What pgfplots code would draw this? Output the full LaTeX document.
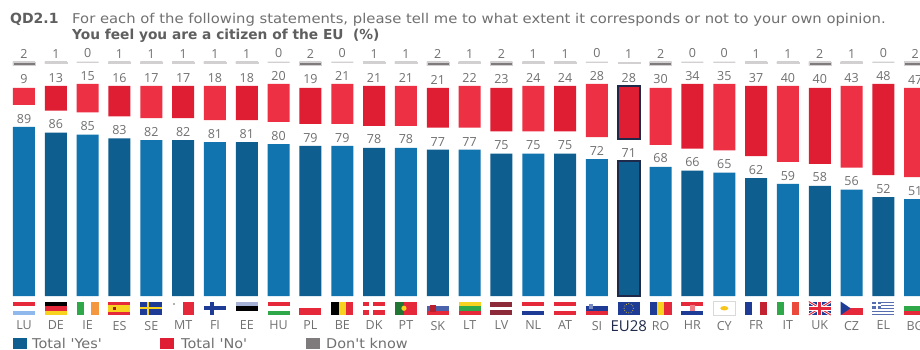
\documentclass[border=0pt]{standalone}
\usepackage{pgfplots}
\usepackage{pgfplotstable}
\usepackage{fontspec}
\setmainfont{Open Sans}
\newfontfamily\titlefont{DejaVu Sans}
\pgfplotsset{compat=1.18}

\definecolor{blueA}{HTML}{1274AE}
\definecolor{blueB}{HTML}{0E5F90}
\definecolor{redA}{HTML}{EE3044}
\definecolor{redB}{HTML}{E01E33}
\definecolor{dkgray}{HTML}{7F7A7C}
\definecolor{txt}{HTML}{707070}
\definecolor{navy}{HTML}{1F2A4A}
\definecolor{fRed}{HTML}{E5283A}
\definecolor{fBlue}{HTML}{1E3C96}
\definecolor{fSky}{HTML}{8FB8EC}
\definecolor{fGreen}{HTML}{2FA84A}
\definecolor{fOrange}{HTML}{F4973F}
\definecolor{fYellow}{HTML}{F7D21E}
\definecolor{fMaroon}{HTML}{8C2A3A}

% Countries in alternating shades: the stack is Yes, spacer, No, spacer, Don't know
\pgfplotstableread{
X  Code Yes Gap No  GapB DK
0  LU   89  11.6 9  11.7 2
2  IE   85  11.6 15 11.7 0
4  SE   82  11.6 17 11.7 1
6  FI   81  11.6 18 11.7 1
8  HU   80  11.6 20 11.7 0
10 BE   79  11.6 21 11.7 0
12 PT   78  11.6 21 11.7 1
14 LT   77  11.6 22 11.7 1
16 NL   75  11.6 24 11.7 1
18 SI   72  11.6 28 11.7 0
20 RO   68  11.6 30 11.7 2
22 CY   65  11.6 35 11.7 0
24 IT   59  11.6 40 11.7 1
26 CZ   56  11.6 43 11.7 1
28 BG   51  11.6 47 11.7 2
}\tabLight
\pgfplotstableread{
X  Code Yes Gap No  GapB DK
1  DE   86  11.6 13 11.7 1
3  ES   83  11.6 16 11.7 1
5  MT   82  11.6 17 11.7 1
7  EE   81  11.6 18 11.7 1
9  PL   79  11.6 19 11.7 2
11 DK   78  11.6 21 11.7 1
13 SK   77  11.6 21 11.7 2
15 LV   75  11.6 23 11.7 2
17 AT   75  11.6 24 11.7 1
21 HR   66  11.6 34 11.7 0
23 FR   62  11.6 37 11.7 1
25 UK   58  11.6 40 11.7 2
27 EL   52  11.6 48 11.7 0
}\tabDark
\pgfplotstableread{
X  Code Yes Gap No  GapB DK
19 EU28 71  11.6 28 11.7 1
}\tabEU

\pgfplotsset{
  frameaxis/.style={
    at={(0pt,31pt)}, anchor=south west,
    scale only axis, width=920pt, height=318pt,
    xmin=-0.754, xmax=28.15, ymin=-11.58, ymax=155.79,
    axis line style={draw=none},
    major tick length=0pt, ytick=\empty,
  },
  stackaxis/.style={
    frameaxis,
    ybar stacked, bar width=22pt, stacked ignores zero=false,
    xtick=data,
    tick label style={font=\fontsize{12.5}{13}\selectfont},
    xticklabel style={yshift=0.5pt},
  },
  vals/.style={
    draw=none, mark=none,
    nodes near coords, point meta=explicit,
    every node near coord/.append style={
      anchor=south, yshift=2.5pt,
      font=\fontsize{12.5}{13}\selectfont, text=txt, inner sep=1pt,
      /pgf/number format/assume math mode=true},
  },
}

% One stacked axis for a group of countries: table, blue, red, outline, tick label style.
% A second axis on the same frame holds the value labels above each segment.
\newcommand\stackgroup[5]{%
  \begin{axis}[stackaxis, xticklabels from table={#1}{Code}, xticklabel style={#5}]
    \addplot[fill=#2, draw=#4, line width=1.6pt] table[x=X, y=Yes] {#1};
    \addplot[draw=none, fill=none] table[x=X, y=Gap] {#1};
    \addplot[fill=#3, draw=#4, line width=1.6pt] table[x=X, y=No] {#1};
    \addplot[draw=none, fill=none] table[x=X, y=GapB] {#1};
    \addplot[fill=dkgray, draw=dkgray!35, line width=0.4pt] table[x=X, y=DK] {#1};
  \end{axis}
  \begin{axis}[frameaxis, xtick=\empty, clip=false]
    \addplot[vals] table[x=X, y=Yes, meta=Yes] {#1};
    \addplot[vals] table[x=X, y expr=\thisrow{Yes}+\thisrow{Gap}+\thisrow{No}, meta=No] {#1};
    \addplot[vals] table[x=X, y expr=\thisrow{Yes}+\thisrow{Gap}+\thisrow{No}+\thisrow{GapB}+\thisrow{DK}, meta=DK] {#1};
  \end{axis}}

% Flags: a 22 x 13.5 box whose lower left corner sits under the bar of category #1
\newcommand\flag[2]{%
  \begin{scope}[shift={({13pt+31.83pt*#1},34pt)}, x=1pt, y=1pt]#2\end{scope}}
\newcommand\hs[3]{%
  \fill[#1] (0,9) rectangle (22,13.5);
  \fill[#2] (0,4.5) rectangle (22,9);
  \fill[#3] (0,0) rectangle (22,4.5);}
\newcommand\vs[3]{%
  \fill[#1] (0,0) rectangle (7.33,13.5);
  \fill[#2] (7.33,0) rectangle (14.67,13.5);
  \fill[#3] (14.67,0) rectangle (22,13.5);}
\newcommand\nordic[3]{%
  \fill[#1] (0,0) rectangle (22,13.5);
  \fill[#2] (6,0) rectangle (10,13.5);
  \fill[#2] (0,4.75) rectangle (22,8.75);
  \fill[#3] (7,0) rectangle (9,13.5);
  \fill[#3] (0,5.75) rectangle (22,7.75);}

\begin{document}
\begin{tikzpicture}
  \path[use as bounding box, clip] (0,0) rectangle (920pt,349pt);
  \fill[white] (0,0) rectangle (920pt,349pt);

  % Question text
  \node[anchor=base west, inner sep=0pt, text=txt!85!black, font=\titlefont\fontsize{14}{16}\selectfont\bfseries] at (10pt,326pt) {QD2.1};
  \node[anchor=base west, inner sep=0pt, text=txt, xscale=1.096, font=\titlefont\fontsize{13.5}{16}\selectfont] at (72pt,326pt) {For each of the following statements, please tell me to what extent it corresponds or not to your own opinion.};
  \node[anchor=base west, inner sep=0pt, text=txt!85!black, font=\titlefont\fontsize{13.75}{16}\selectfont\bfseries] at (72pt,309pt) {You feel you are a citizen of the EU\ \ (\%)};

  \stackgroup{\tabLight}{blueA}{redA}{none}{text=txt}
  \stackgroup{\tabDark}{blueB}{redB}{none}{text=txt}
  \stackgroup{\tabEU}{blueB}{redB}{navy}{text=navy, font=\fontsize{15}{15}\selectfont}

  % Flags
  \flag{0}{\hs{fRed}{white}{fSky}}
  \flag{1}{\hs{black}{fRed}{fYellow}}
  \flag{2}{\vs{fGreen}{white}{fOrange}}
  \flag{3}{\fill[fRed] (0,0) rectangle (22,13.5); \fill[fYellow] (0,3.4) rectangle (22,10.1); \fill[fRed!70!black] (5,5) rectangle (8,8.5);}
  \flag{4}{\nordic{fBlue}{fBlue}{fYellow}}
  \flag{5}{\fill[white] (0,0) rectangle (11,13.5); \fill[fRed] (11,0) rectangle (22,13.5); \fill[gray!60] (1,10.5) rectangle (3,12.5);}
  \flag{6}{\nordic{white}{fBlue}{fBlue}}
  \flag{7}{\hs{fBlue!40}{black}{white}}
  \flag{8}{\hs{fRed}{white}{fGreen}}
  \flag{9}{\fill[white] (0,6.75) rectangle (22,13.5); \fill[fRed] (0,0) rectangle (22,6.75);}
  \flag{10}{\vs{black}{fYellow}{fRed}}
  \flag{11}{\nordic{fRed}{white}{white}}
  \flag{12}{\fill[fGreen!70!black] (0,0) rectangle (9,13.5); \fill[fRed] (9,0) rectangle (22,13.5); \fill[fYellow] (9,6.75) circle (2.6);}
  \flag{13}{\hs{white}{fBlue!80}{fRed}\fill[fRed!80!black] (3.5,3) rectangle (9,10);}
  \flag{14}{\hs{fYellow}{fGreen}{fRed}}
  \flag{15}{\fill[fMaroon] (0,0) rectangle (22,13.5); \fill[white] (0,5.5) rectangle (22,8);}
  \flag{16}{\hs{fRed}{white}{fBlue}}
  \flag{17}{\hs{fRed}{white}{fRed}}
  \flag{18}{\hs{white}{fBlue}{fRed}\fill[fBlue!60] (3,6) rectangle (7.5,11);}
  \flag{19}{\fill[fBlue] (0,0) rectangle (22,13.5); \foreach \a in {0,30,...,330}{\fill[fYellow] ({11+4.6*cos(\a)},{6.75+4.6*sin(\a)}) circle (0.5);}}
  \flag{20}{\vs{fBlue}{fYellow}{fRed}}
  \flag{21}{\hs{fRed}{white}{fBlue}\fill[fRed!60] (8.5,4) rectangle (13.5,10);}
  \flag{22}{\fill[white] (0,0) rectangle (22,13.5); \draw[gray!30, line width=0.4pt] (0,0) rectangle (22,13.5); \fill[fYellow!85!orange] (11,6.75) ellipse (4 and 2.2);}
  \flag{23}{\vs{fBlue}{white}{fRed!85!black}}
  \flag{24}{\vs{fGreen}{white}{fOrange!30!fRed}}
  \flag{25}{\fill[fBlue] (0,0) rectangle (22,13.5);
    \draw[white, line width=2.6pt] (0,0) -- (22,13.5) (0,13.5) -- (22,0);
    \draw[fRed, line width=1pt] (0,0) -- (22,13.5) (0,13.5) -- (22,0);
    \fill[white] (8.5,0) rectangle (13.5,13.5); \fill[white] (0,4.5) rectangle (22,9);
    \fill[fRed] (9.5,0) rectangle (12.5,13.5); \fill[fRed] (0,5.25) rectangle (22,8.25);}
  \flag{26}{\fill[white] (0,6.75) rectangle (22,13.5); \fill[fRed] (0,0) rectangle (22,6.75); \fill[fBlue] (0,0) -- (10,6.75) -- (0,13.5) -- cycle;}
  \flag{27}{\fill[fBlue!75] (0,0) rectangle (22,13.5);
    \foreach \y in {1.5,4.5,7.5,10.5}{\fill[white] (0,\y) rectangle (22,\y+1.5);}
    \fill[fBlue!75] (0,6) rectangle (9,13.5); \fill[white] (3.5,6) rectangle (5.5,13.5); \fill[white] (0,8.75) rectangle (9,10.75);}
  \flag{28}{\hs{white}{fGreen}{fRed}}

  % Legend
  \fill[blueB] (13pt,0pt) rectangle (27pt,11pt);
  \node[anchor=base west, inner sep=0pt, text=txt, xscale=1.07, font=\titlefont\fontsize{13.5}{14}\selectfont] at (32pt,1pt) {Total 'Yes'};
  \fill[redB] (160pt,0pt) rectangle (174pt,11pt);
  \node[anchor=base west, inner sep=0pt, text=txt, xscale=1.07, font=\titlefont\fontsize{13.5}{14}\selectfont] at (181pt,1pt) {Total 'No'};
  \fill[dkgray] (306pt,0pt) rectangle (320pt,11pt);
  \node[anchor=base west, inner sep=0pt, text=txt, xscale=1.07, font=\titlefont\fontsize{13.5}{14}\selectfont] at (326pt,1pt) {Don't know};
\end{tikzpicture}
\end{document}
